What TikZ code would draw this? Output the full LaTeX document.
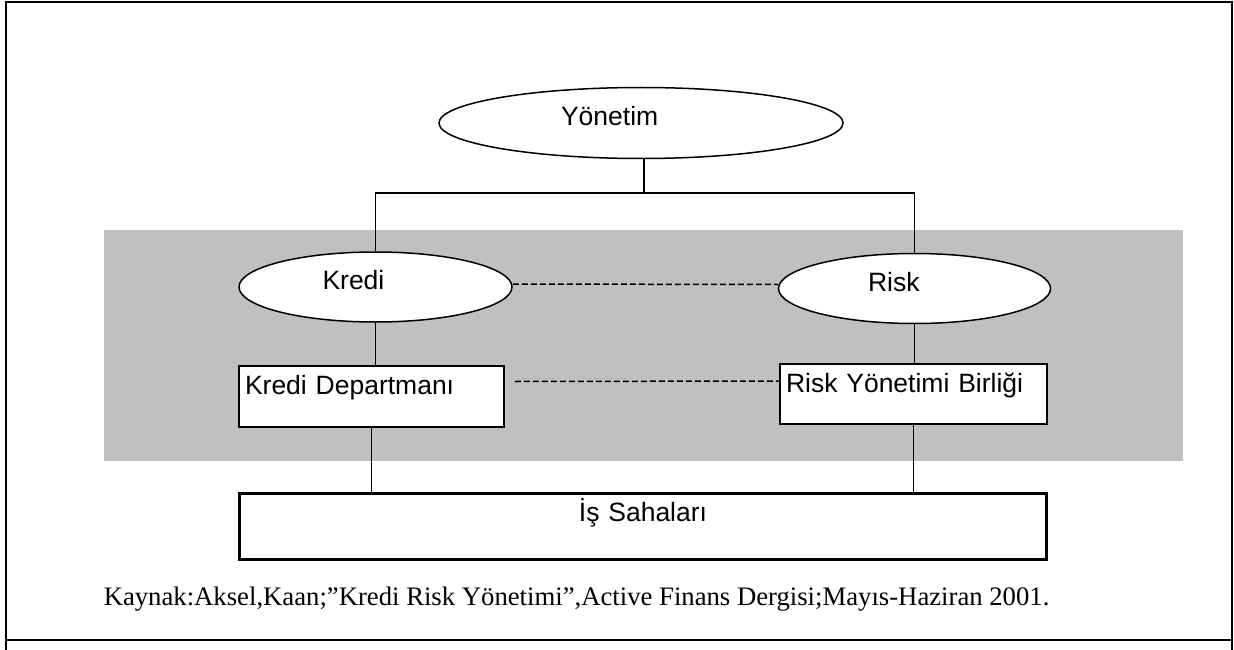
\documentclass[tikz,border=0pt]{standalone}
\usepackage{fontspec}
\setmainfont{Liberation Serif}
\setsansfont{Liberation Sans}
\usetikzlibrary{shapes.geometric}
\definecolor{bandgray}{HTML}{C0C0C0}
\begin{document}
\begin{tikzpicture}[x=1pt,y=-1pt,line width=1.5pt,draw=black,font=\sffamily\fontsize{26.5}{30}\selectfont]
	\tikzstyle{EL}=[ellipse,draw,fill=white,inner sep=0pt,text height=19pt,text depth=14pt,align=left] % EL = ellipse node
	\tikzstyle{BX}=[rectangle,draw,fill=white,inner xsep=6pt,inner ysep=9pt,text height=19pt,align=left] % BX = box node
	\tikzstyle{DL}=[dash pattern=on 6pt off 3pt] % DL = dashed link
	\useasboundingbox (0,0) rectangle (1234,650);
	% frame
	\draw (6,2) rectangle (1232,640);
	\draw (6,640) -- (6,650) (1232,640) -- (1232,650);
	% grey band
	\fill[bandgray] (104,230) rectangle (1183,461);
	% nodes
	\node(yon)[EL,minimum width=404pt,minimum height=71pt,text width=160pt] at (641,123) {Yönetim};
	\node(kredi)[EL,minimum width=273pt,minimum height=70pt,text width=106pt] at (375.5,287) {Kredi};
	\node(risk)[EL,minimum width=272pt,minimum height=70pt,text width=93pt] at (914.5,288.5) {Risk};
	\node(kdep)[BX,text width=253pt,text depth=24pt] at (371.5,396.5) {Kredi Departmanı};
	\node(rdep)[BX,text width=255pt,text depth=23pt] at (913.5,394) {Risk Yönetimi Birliği};
	\node(is)[BX,line width=3pt,text width=795pt,text depth=29pt,align=center] at (643,526.5) {İş Sahaları\hspace*{30pt}};
	\node(kaynak)[anchor=base west,inner sep=0pt,font=\rmfamily\fontsize{26.7}{30}\selectfont] at (103,605) {Kaynak:Aksel,Kaan;”Kredi Risk Yönetimi”,Active Finans Dergisi;Mayıs-Haziran 2001.};
	% tree lines
	\coordinate(fork) at (644,193);
	\draw (fork |- yon.south) -- (fork);
	\draw (kredi.north) |- (fork) -| (risk.north);
	\draw (kredi.south) -- (kredi.south |- kdep.north);
	\draw (risk.south) -- (risk.south |- rdep.north);
	\draw (kdep.south) -- (kdep.south |- is.north);
	\draw (rdep.south) -- (rdep.south |- is.north);
	% dashed links
	\draw[DL] ([yshift=3pt]kredi.east) -- ([yshift=4pt]risk.west);
	\draw[DL] ([xshift=10pt,yshift=15pt]kdep.east) -- ([yshift=13pt]rdep.west);
\end{tikzpicture}
\end{document}
